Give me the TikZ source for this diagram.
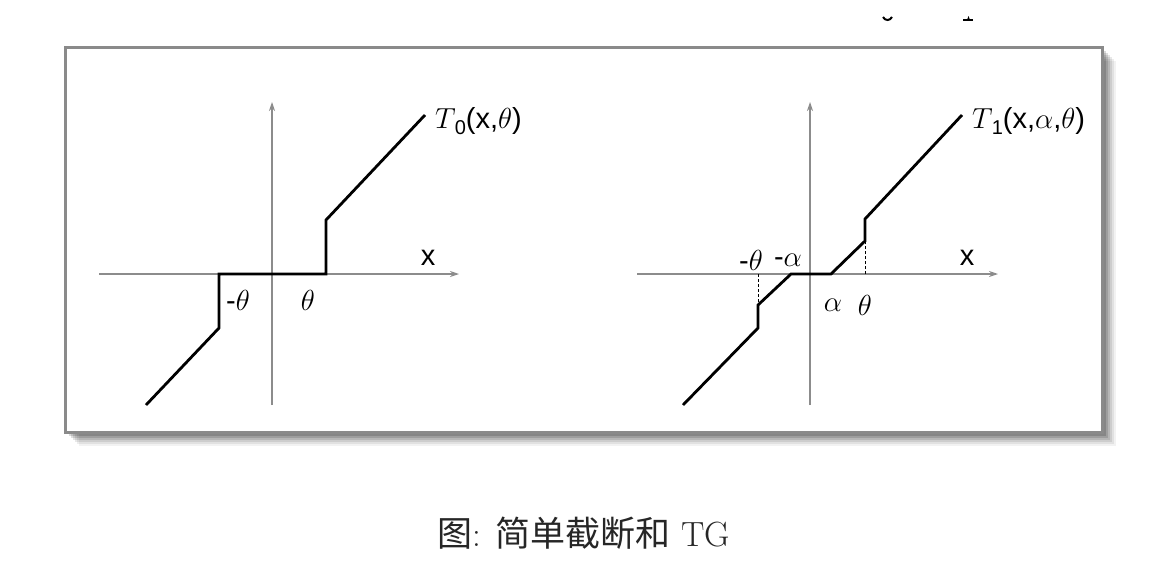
\RequirePackage{fix-cm}
\documentclass[tikz,border=0pt]{standalone}
\usepackage{fontspec}
\newfontfamily\labfont{Liberation Sans}
\newfontfamily\cjkfont{Noto Sans CJK SC}
\usetikzlibrary{arrows.meta}
\DeclareMathSizes{29}{29}{20}{14}
\DeclareMathSizes{35}{35}{24}{17}
\definecolor{framegray}{HTML}{8A8A8A}
\definecolor{axisgray}{HTML}{8C8C8C}
\newcommand\labsize{\fontsize{29}{31}\selectfont}
\begin{document}
\begin{tikzpicture}[x=1pt,y=-1pt,
  axis/.style={draw=axisgray,line width=1.1pt,-{Stealth[length=9pt,width=6pt]}},
  curve/.style={draw=black,line width=2.8pt,line join=miter},
  guide/.style={draw=black,line width=0.9pt,dash pattern=on 3pt off 2pt},
  lab/.style={font=\labfont\labsize,inner sep=0pt},
  captext/.style={font=\fontsize{35}{40}\selectfont,inner sep=0pt,text=black!85}]
\useasboundingbox (0,0) rectangle (1176,568);
% shadow
\foreach \d/\o in {14/0.05,12/0.07,10/0.09,8/0.11,6/0.13,4/0.15}{
  \fill[black,opacity=\o] (65+\d,47+\d) rectangle (1102+\d,432+\d);
}
\draw[framegray,line width=3pt,fill=white] (65,47) rectangle (1102,432);
% cut-off marks at top
\draw[black,line width=2pt] (883,17) .. controls (885,21) and (890,21) .. (892,17);
\draw[black,line width=2pt] (963,20) -- (973,20);
\fill[black] (967,20) -- (968.5,16) -- (970,20) -- cycle;

% ---------- left plot ----------
\coordinate (ly0) at (272,405);
\coordinate (ly1) at (272,102);
\coordinate (lx0) at (99,274);
\coordinate (lx1) at (459,274);
\draw[axis] (ly0) -- (ly1);
\draw[axis] (lx0) -- (lx1);
\coordinate (la) at (146,405);
\coordinate (lb) at (219,328);
\coordinate (lc) at (219,274);
\coordinate (ld) at (326,274);
\coordinate (le) at (326,220);
\coordinate (lf) at (425,115);
\draw[curve] (la) -- (lb) -- (lc) -- (ld) -- (le) -- (lf);
\node[lab,anchor=west] (lT) at (435,121) {\labsize$T$\kern-1pt\raisebox{-6pt}{\fontsize{20}{21}\selectfont 0}(x,$\theta$)};
\node[lab] (lX) at (428,258) {x};
\node[lab] (lmt) at (238,300) {\labsize-$\theta$};
\node[lab] (lpt) at (308,300) {\labsize$\theta$};

% ---------- right plot ----------
\coordinate (ry0) at (810,405);
\coordinate (ry1) at (810,102);
\coordinate (rx0) at (637,274);
\coordinate (rx1) at (998,274);
\draw[axis] (ry0) -- (ry1);
\draw[axis] (rx0) -- (rx1);
\coordinate (ra) at (683,405);
\coordinate (rb) at (758,328);
\coordinate (rc) at (758,305);
\coordinate (rd) at (791,274);
\coordinate (re) at (831,274);
\coordinate (rf) at (865,241);
\coordinate (rg) at (865,219);
\coordinate (rh) at (962,115);
\coordinate (rt1) at (758,274);
\coordinate (rt2) at (865,274);
\draw[guide] (rt1) -- (rc);
\draw[guide] (rt2) -- (rf);
\draw[curve] (ra) -- (rb) -- (rc) -- (rd) -- (re) -- (rf) -- (rg) -- (rh);
\node[lab,anchor=west] (rT) at (972,121) {\labsize$T$\kern-1pt\raisebox{-6pt}{\fontsize{20}{21}\selectfont 1}(x,$\alpha$,$\theta$)};
\node[lab] (rX) at (967,258) {x};
\node[lab] (rmt) at (751,260) {\labsize-$\theta$};
\node[lab] (rma) at (788,260) {\labsize-$\alpha$};
\node[lab] (rpa) at (833,305) {\labsize$\alpha$};
\node[lab] (rpt) at (865,305) {\labsize$\theta$};

% caption
\node[captext] (caption) at (584,533) {{\cjkfont 图}: {\cjkfont 简单截断和} TG};
\end{tikzpicture}
\end{document}
